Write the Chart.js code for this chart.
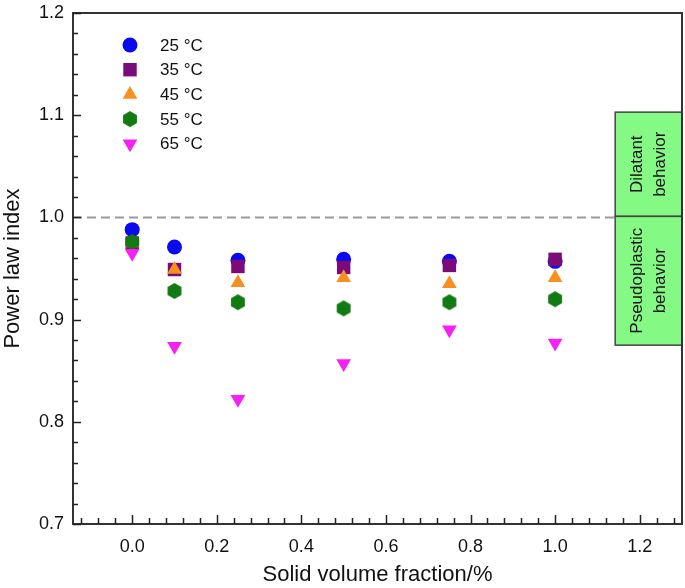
<!DOCTYPE html>
<html>
<head>
<meta charset="utf-8">
<script src="https://cdn.jsdelivr.net/npm/chart.js@4.4.1/dist/chart.umd.min.js"></script>
<style>
  html, body { margin: 0; padding: 0; background: #fff; }
  #wrap { width: 685px; height: 588px; }
</style>
</head>
<body>
<div id="wrap"><canvas id="chart"></canvas></div>
<script>
// ---- Data ----
const fractions = [0, 0.1, 0.25, 0.5, 0.75, 1.0];
const n25 = [0.988, 0.971, 0.958, 0.959, 0.957, 0.957];
const n35 = [0.975, 0.949, 0.952, 0.951, 0.953, 0.959];
const n45 = [0.975, 0.949, 0.936, 0.941, 0.935, 0.941];
const n55 = [0.976, 0.928, 0.917, 0.911, 0.917, 0.920];
const n65 = [0.965, 0.874, 0.822, 0.857, 0.890, 0.877];
const seriesLabels = ['25 °C', '35 °C', '45 °C', '55 °C', '65 °C'];

const xTickValues = [0, 0.2, 0.4, 0.6, 0.8, 1.0, 1.2];
const yTickValues = [0.7, 0.8, 0.9, 1.0, 1.1, 1.2];

// dashed n = 1 reference line and the two behaviour boxes
const refLineX = [-0.14, 1.142];
const refLineY = 1.0;
const boxLeftX = 1.142;
const boxBounds = [1.103, 1.001, 0.875];
const boxTexts = [['Dilatant', 'behavior'], ['Pseudoplastic', 'behavior']];

const FONT = "'Liberation Sans', Arial, Helvetica, sans-serif";

// ---- Hexagon marker (Chart.js has none) ----
function hexagon(r, color) {
  const c = document.createElement('canvas');
  const s = Math.ceil(r * 2 + 2);
  c.width = s; c.height = s;
  const g = c.getContext('2d');
  g.beginPath();
  for (let i = 0; i < 6; i++) {
    const a = Math.PI / 3 * i - Math.PI / 2;
    const px = s / 2 + r * Math.cos(a), py = s / 2 + r * Math.sin(a);
    if (i) g.lineTo(px, py); else g.moveTo(px, py);
  }
  g.closePath();
  g.fillStyle = color;
  g.fill();
  return c;
}

function pts(ys) {
  return fractions.map((x, i) => ({ x, y: ys[i] }));
}

const markers = [
  { color: '#0a0aee', style: 'circle',   radius: 7.5, rotation: 0 },
  { color: '#7b0a7b', style: 'rect',     radius: 9.5, rotation: 0 },
  { color: '#f7901e', style: 'triangle', radius: 8.5, rotation: 0 },
  { color: '#127a12', style: hexagon(8, '#127a12'), radius: 8, rotation: 0 },
  { color: '#f520f5', style: 'triangle', radius: 8.5, rotation: 180 },
];
const seriesData = [n25, n35, n45, n55, n65];

// later series are painted over earlier ones (higher order = drawn underneath)
const datasets = seriesData.map((ys, i) => ({
  label: seriesLabels[i],
  data: pts(ys),
  order: 10 - i,
  backgroundColor: markers[i].color,
  borderColor: markers[i].color,
  borderWidth: 0,
  pointStyle: markers[i].style,
  pointRadius: markers[i].radius,
  pointRotation: markers[i].rotation,
  pointHoverRadius: markers[i].radius,
}));

datasets.push({
  label: 'ref',
  data: refLineX.map(x => ({ x, y: refLineY })),
  order: 20,
  showLine: true,
  borderColor: '#9a9a9a',
  borderWidth: 2,
  borderDash: [9, 5],
  pointRadius: 0,
  fill: false,
});

// ---- Frame, inward ticks, boxes, legend ----
const decorations = {
  id: 'decorations',
  afterDatasetsDraw(chart) {
    const { ctx, chartArea: a, scales: { x, y } } = chart;
    ctx.save();

    // behaviour boxes
    const bx0 = x.getPixelForValue(boxLeftX);
    const bx1 = a.right;
    for (let i = 0; i < 2; i++) {
      const top = y.getPixelForValue(boxBounds[i]);
      const bot = y.getPixelForValue(boxBounds[i + 1]);
      ctx.fillStyle = '#84f984';
      ctx.fillRect(bx0, top, bx1 - bx0, bot - top);
      ctx.strokeStyle = '#444';
      ctx.lineWidth = 1.5;
      ctx.strokeRect(bx0, top, bx1 - bx0, bot - top);

      ctx.save();
      ctx.translate((bx0 + bx1) / 2, (top + bot) / 2);
      ctx.rotate(-Math.PI / 2);
      ctx.fillStyle = '#111';
      ctx.font = '17px ' + FONT;
      ctx.textAlign = 'center';
      ctx.textBaseline = 'middle';
      ctx.fillText(boxTexts[i][0], 0, -11.5);
      ctx.fillText(boxTexts[i][1], 0, 11.5);
      ctx.restore();
    }

    // frame
    ctx.strokeStyle = '#333';
    ctx.lineWidth = 2;
    ctx.strokeRect(a.left, a.top, a.right - a.left, a.bottom - a.top);

    // inward ticks
    ctx.lineWidth = 1.5;
    ctx.strokeStyle = '#222';
    ctx.beginPath();
    for (let k = 0; k <= 25; k++) {
      const v = 0.7 + k * 0.02;
      const py = Math.round(y.getPixelForValue(v)) + 0.5;
      const len = k % 5 === 0 ? 8 : 5;
      ctx.moveTo(a.left, py);
      ctx.lineTo(a.left + len, py);
    }
    for (let k = -3; k <= 32; k++) {
      const v = k * 0.04;
      const px = x.getPixelForValue(v);
      if (px <= a.left + 1 || px >= a.right - 1) continue;
      const len = k % 5 === 0 ? 9 : 6;
      const rx = Math.round(px) + 0.5;
      ctx.moveTo(rx, a.bottom);
      ctx.lineTo(rx, a.bottom - len);
    }
    ctx.stroke();

    // legend
    ctx.font = '17px ' + FONT;
    ctx.textAlign = 'left';
    ctx.textBaseline = 'middle';
    for (let i = 0; i < seriesLabels.length; i++) {
      const ly = 45 + i * 24.7;
      const m = markers[i];
      ctx.fillStyle = m.color;
      ctx.strokeStyle = m.color;
      Chart.helpers.drawPoint(ctx, { pointStyle: m.style, radius: m.radius, rotation: m.rotation, borderWidth: 0 }, 130, ly);
      ctx.fillStyle = '#111';
      ctx.fillText(seriesLabels[i], 160, ly + 1);
    }
    ctx.restore();
  }
};

new Chart(document.getElementById('chart'), {
  type: 'scatter',
  data: { datasets },
  options: {
    responsive: true,
    maintainAspectRatio: false,
    animation: false,
    layout: { autoPadding: false, padding: { top: 13, right: 3, left: 0, bottom: 0 } },
    plugins: {
      legend: { display: false },
      tooltip: { enabled: false },
    },
    scales: {
      x: {
        type: 'linear',
        min: -0.14,
        max: 1.30,
        grid: { display: false, drawTicks: false },
        border: { display: false },
        afterBuildTicks: s => { s.ticks = xTickValues.map(value => ({ value })); },
        afterFit: s => { s.height = 64; s.paddingLeft = 0; s.paddingRight = 0; },
        ticks: {
          color: '#111',
          font: { family: FONT, size: 18 },
          padding: 12,
          callback: v => Number(v).toFixed(1),
        },
        title: {
          display: true,
          text: 'Solid volume fraction/%',
          color: '#111',
          font: { family: FONT, size: 22 },
          padding: { top: 2, bottom: 0 },
        },
      },
      y: {
        type: 'linear',
        min: 0.7,
        max: 1.2,
        grid: { display: false, drawTicks: false },
        border: { display: false },
        afterBuildTicks: s => { s.ticks = yTickValues.map(value => ({ value })); },
        afterFit: s => { s.width = 73; s.paddingTop = 0; s.paddingBottom = 0; },
        ticks: {
          color: '#111',
          font: { family: FONT, size: 18 },
          padding: 9,
          callback: v => Number(v).toFixed(1),
        },
        title: {
          display: true,
          text: 'Power law index',
          color: '#111',
          font: { family: FONT, size: 22 },
          padding: { top: 0, bottom: 0 },
        },
      },
    },
  },
  plugins: [decorations],
});
</script>
</body>
</html>
